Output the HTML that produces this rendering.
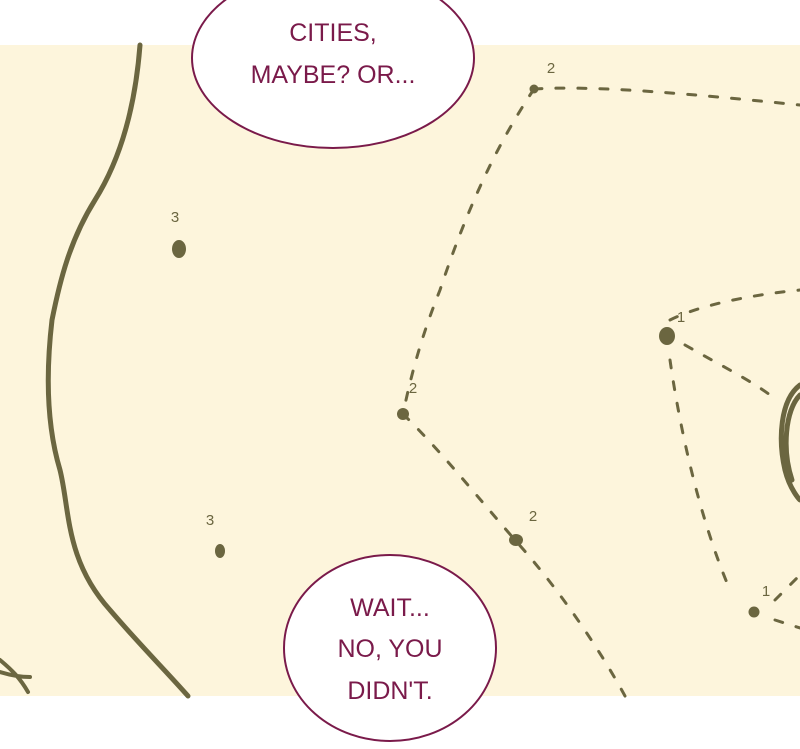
<!DOCTYPE html>
<html><head><style>
html,body{margin:0;padding:0;background:#fff;width:800px;height:749px;overflow:hidden}
svg{display:block}
text{font-family:"Liberation Sans",sans-serif;fill:#7a1a4a;font-size:25px;text-anchor:middle}
.n{fill:#6b6640;font-size:15px;font-family:"Liberation Sans",sans-serif}
</style></head><body>
<svg width="800" height="749" viewBox="0 0 800 749">
<rect x="0" y="45" width="800" height="651" fill="#fdf5dc"/>
<g fill="none" stroke="#6b6640" stroke-linecap="round">
<path d="M140 45 C135 110 120 160 95 200 C70 240 60 280 52 320 C45 380 48 430 60 470 C70 510 65 560 110 610 C140 645 165 670 188 696" stroke-width="5"/>
<path d="M0 660 C12 670 20 678 28 692 M0 672 C10 675 20 677 30 677" stroke-width="4"/>
<g stroke-width="3" stroke-dasharray="8 14">
<path d="M534 89 C600 85 700 95 800 105"/>
<path d="M534 89 C500 140 470 200 440 290 C420 340 410 380 403 414"/>
<path d="M403 414 C440 450 480 500 515 540 C560 590 600 650 625 696"/>
<path d="M670 320 C700 305 750 295 800 290"/>
<path d="M685 345 C720 365 750 380 770 395"/>
<path d="M670 360 C680 430 700 520 730 590"/>
<path d="M775 600 C785 590 795 580 800 575"/>
<path d="M775 620 L800 628"/>
</g>
<path d="M800 385 C780 400 778 440 785 470 C790 490 800 500 800 500 M800 395 C785 410 782 450 792 480" stroke-width="5"/>
</g>
<g fill="#6b6640">
<circle cx="534" cy="89" r="4.5"/>
<circle cx="403" cy="414" r="6"/>
<ellipse cx="516" cy="540" rx="7" ry="6"/>
<ellipse cx="667" cy="336" rx="8" ry="9"/>
<circle cx="754" cy="612" r="5.5"/>
<ellipse cx="179" cy="249" rx="7" ry="9"/>
<ellipse cx="220" cy="551" rx="5" ry="7"/>
</g>
<text class="n" x="551" y="73">2</text>
<text class="n" x="413" y="393">2</text>
<text class="n" x="533" y="521">2</text>
<text class="n" x="175" y="222">3</text>
<text class="n" x="210" y="525">3</text>
<text class="n" x="681" y="322">1</text>
<text class="n" x="766" y="596">1</text>
<ellipse cx="333" cy="58" rx="141" ry="90" fill="#fff" stroke="#7a1a4a" stroke-width="2"/>
<text x="333" y="41">CITIES,</text>
<text x="333" y="83">MAYBE? OR...</text>
<ellipse cx="390" cy="648" rx="106" ry="93" fill="#fff" stroke="#7a1a4a" stroke-width="2"/>
<text x="390" y="616">WAIT...</text>
<text x="390" y="657">NO, YOU</text>
<text x="390" y="699">DIDN'T.</text>
</svg>
</body></html>
